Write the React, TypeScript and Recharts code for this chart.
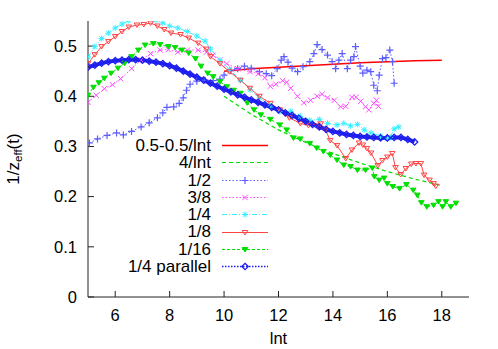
import { Label, Legend, Line, LineChart, XAxis, YAxis } from 'recharts'

const FONT = '"Liberation Sans", Arial, Helvetica, sans-serif'

const xTicks = [6, 8, 10, 12, 14, 16, 18]
const yTicks = [0, 0.1, 0.2, 0.3, 0.4, 0.5]

// [lnt, 1/z_eff] pairs
const limitCurve: [number, number][] = [
  [10, 0.45], [11, 0.455], [12, 0.458], [13, 0.461], [14, 0.464],
  [15, 0.467], [16, 0.469], [17, 0.471], [18, 0.472],
]

const inverseCurve: [number, number][] = [
  [10, 0.4], [11, 0.364], [12, 0.333], [13, 0.308], [14, 0.286],
  [15, 0.267], [16, 0.25], [17, 0.235], [18, 0.222],
]

const half: [number, number][] = [
  [5.05, 0.307], [5.35, 0.315], [5.7, 0.322], [6.05, 0.327], [6.3, 0.323], [6.6, 0.33],
  [6.95, 0.339], [7.25, 0.347], [7.55, 0.357], [7.75, 0.367], [7.9, 0.378], [8.15, 0.379],
  [8.35, 0.386], [8.5, 0.397], [8.62, 0.412], [8.75, 0.424], [9.0, 0.43], [9.3, 0.432],
  [9.6, 0.431], [9.85, 0.434], [10.0, 0.442], [10.25, 0.451], [10.5, 0.455], [10.75, 0.46],
  [11.0, 0.456], [11.3, 0.449], [11.55, 0.445], [11.75, 0.441], [11.95, 0.455], [12.1, 0.472],
  [12.2, 0.479], [12.35, 0.468], [12.5, 0.456], [12.7, 0.449], [12.9, 0.459], [13.15, 0.469],
  [13.3, 0.485], [13.42, 0.503], [13.6, 0.493], [13.8, 0.482], [13.97, 0.469], [14.1, 0.455],
  [14.22, 0.472], [14.34, 0.485], [14.53, 0.455], [14.65, 0.472], [14.77, 0.479], [14.83, 0.499],
  [15.0, 0.46], [15.1, 0.446], [15.25, 0.452], [15.39, 0.449], [15.5, 0.422], [15.63, 0.411],
  [15.7, 0.442], [15.82, 0.475], [15.95, 0.477], [16.09, 0.492], [16.19, 0.469], [16.25, 0.426],
]

const threeEighths: [number, number][] = [
  [5.0, 0.388], [5.3, 0.402], [5.6, 0.415], [5.9, 0.423], [6.2, 0.435], [6.6, 0.455],
  [6.95, 0.472], [7.3, 0.485], [7.65, 0.492], [7.95, 0.493], [8.3, 0.488], [8.65, 0.492],
  [9.05, 0.492], [9.35, 0.488], [9.6, 0.482], [9.85, 0.472], [10.1, 0.465], [10.5, 0.455],
  [10.95, 0.449], [11.25, 0.445], [11.5, 0.437], [11.7, 0.42], [11.9, 0.424], [12.15, 0.431],
  [12.3, 0.428], [12.45, 0.416], [12.7, 0.4], [12.93, 0.387], [13.18, 0.392], [13.42, 0.4],
  [13.6, 0.404], [13.8, 0.397], [14.05, 0.392], [14.28, 0.379], [14.47, 0.38], [14.7, 0.398],
  [14.85, 0.398], [15.02, 0.39], [15.2, 0.379], [15.32, 0.373], [15.5, 0.386], [15.6, 0.392],
  [15.67, 0.38],
]

const quarter: [number, number][] = [
  [5.0, 0.478], [5.25, 0.499], [5.5, 0.515], [5.75, 0.526], [6.0, 0.536], [6.25, 0.544],
  [6.5, 0.551], [6.75, 0.556], [7.0, 0.557], [7.25, 0.556], [7.5, 0.552], [7.75, 0.546],
  [8.0, 0.54], [8.3, 0.536], [8.65, 0.529], [9.0, 0.52], [9.3, 0.51], [9.5, 0.494],
  [9.85, 0.472], [10.2, 0.453], [10.6, 0.432], [10.95, 0.413], [11.3, 0.397], [11.7, 0.381],
  [12.05, 0.369], [12.45, 0.37], [12.8, 0.36], [13.15, 0.352], [13.5, 0.354], [13.8, 0.346],
  [14.15, 0.343], [14.4, 0.346], [14.65, 0.341], [14.9, 0.344], [15.15, 0.333], [15.4, 0.327],
  [15.75, 0.321], [16.0, 0.315], [16.1, 0.318], [16.25, 0.335], [16.42, 0.339],
]

const eighth: [number, number][] = [
  [5.0, 0.465], [5.25, 0.483], [5.5, 0.499], [5.75, 0.509], [6.0, 0.519], [6.25, 0.529],
  [6.5, 0.538], [6.8, 0.542], [7.05, 0.543], [7.3, 0.546], [7.55, 0.54], [7.8, 0.533],
  [8.05, 0.526], [8.4, 0.523], [8.7, 0.516], [9.05, 0.506], [9.35, 0.494], [9.5, 0.479],
  [9.85, 0.465], [10.2, 0.449], [10.6, 0.432], [10.95, 0.416], [11.3, 0.4], [11.7, 0.386],
  [12.05, 0.373], [12.4, 0.357], [12.8, 0.346], [13.1, 0.342], [13.4, 0.341], [13.55, 0.345],
  [13.73, 0.333], [13.9, 0.312], [14.15, 0.302], [14.47, 0.276], [14.7, 0.293], [14.96, 0.307],
  [15.1, 0.303], [15.25, 0.296], [15.4, 0.287], [15.65, 0.262], [15.82, 0.272], [16.0, 0.279],
  [16.18, 0.286], [16.3, 0.258], [16.49, 0.244], [16.68, 0.256], [16.88, 0.265], [17.05, 0.266],
  [17.23, 0.266], [17.35, 0.243], [17.55, 0.233], [17.7, 0.226], [17.78, 0.221],
]

const sixteenth: [number, number][] = [
  [5.0, 0.402], [5.2, 0.418], [5.4, 0.427], [5.6, 0.436], [5.85, 0.446], [6.1, 0.456],
  [6.35, 0.466], [6.6, 0.479], [6.85, 0.492], [7.1, 0.502], [7.4, 0.505], [7.65, 0.503],
  [7.95, 0.499], [8.2, 0.497], [8.45, 0.492], [8.7, 0.486], [8.95, 0.475], [9.15, 0.46],
  [9.4, 0.446], [9.6, 0.439], [9.85, 0.429], [10.1, 0.419], [10.35, 0.412], [10.6, 0.406],
  [10.85, 0.387], [11.1, 0.373], [11.35, 0.363], [11.7, 0.354], [12.05, 0.343], [12.3, 0.333],
  [12.55, 0.317], [12.8, 0.315], [13.15, 0.306], [13.4, 0.297], [13.65, 0.29], [13.9, 0.283],
  [14.15, 0.273], [14.4, 0.263], [14.65, 0.26], [14.9, 0.253], [15.2, 0.253], [15.45, 0.257],
  [15.52, 0.24], [15.7, 0.233], [15.88, 0.237], [16.0, 0.226], [16.2, 0.22], [16.45, 0.216],
  [16.7, 0.224], [16.95, 0.213], [17.1, 0.203], [17.25, 0.188], [17.45, 0.18], [17.7, 0.183],
  [17.88, 0.19], [18.03, 0.18], [18.15, 0.19], [18.33, 0.18], [18.52, 0.187],
]

const quarterParallel: [number, number][] = [
  [5.0, 0.458], [5.25, 0.462], [5.5, 0.466], [5.75, 0.469], [6.0, 0.471], [6.25, 0.472],
  [6.5, 0.473], [6.75, 0.473], [7.0, 0.472], [7.25, 0.47], [7.5, 0.468], [7.75, 0.465],
  [8.0, 0.461], [8.25, 0.456], [8.5, 0.45], [8.75, 0.444], [9.0, 0.438], [9.25, 0.432],
  [9.5, 0.426], [9.75, 0.42], [10.0, 0.414], [10.25, 0.409], [10.5, 0.403], [10.75, 0.398],
  [11.0, 0.393], [11.25, 0.388], [11.5, 0.383], [11.75, 0.378], [12.0, 0.373], [12.25, 0.367],
  [12.5, 0.362], [12.75, 0.356], [13.0, 0.35], [13.25, 0.344], [13.5, 0.339], [13.75, 0.334],
  [14.0, 0.33], [14.25, 0.327], [14.5, 0.324], [14.75, 0.322], [15.0, 0.32], [15.25, 0.319],
  [15.5, 0.318], [15.75, 0.317], [16.0, 0.317], [16.25, 0.318], [16.5, 0.318], [16.75, 0.314],
  [17.0, 0.309],
]

type MarkerKind = 'none' | 'plus' | 'cross' | 'star' | 'triangle' | 'triangleFilled' | 'diamond'

type Series = {
  name: string
  points: [number, number][]
  color: string
  dash?: string
  keyDash?: string
  width: number
  marker: MarkerKind
}

const series: Series[] = [
  { name: '0.5-0.5/lnt', points: limitCurve, color: '#ff0000', width: 1.5, marker: 'none' },
  { name: '4/lnt', points: inverseCurve, color: '#00dd00', dash: '4 3', width: 1.2, marker: 'none' },
  { name: '1/2', points: half, color: '#5c5cff', dash: '1.5 2', width: 1, marker: 'plus' },
  { name: '3/8', points: threeEighths, color: '#ff4cff', dash: '1.5 2', width: 1, marker: 'cross' },
  { name: '1/4', points: quarter, color: '#33eeff', dash: '5 2 1 2', width: 1, marker: 'star' },
  { name: '1/8', points: eighth, color: '#ff4444', width: 1, marker: 'triangle' },
  { name: '1/16', points: sixteenth, color: '#00e000', dash: '3 2', width: 1, marker: 'triangleFilled' },
  { name: '1/4 parallel', points: quarterParallel, color: '#1f1fee', keyDash: '1.5 1.5', width: 4, marker: 'diamond' },
]

function Marker({ kind, cx, cy, color }: { kind: MarkerKind; cx: number; cy: number; color: string }) {
  if (cx == null || cy == null || kind === 'none') return null
  if (kind === 'plus') {
    return <path d={`M${cx - 3.5},${cy}h7M${cx},${cy - 3.5}v7`} stroke={color} strokeWidth={1.2} fill="none" />
  }
  if (kind === 'cross') {
    return <path d={`M${cx - 2.7},${cy - 2.7}l5.4,5.4M${cx - 2.7},${cy + 2.7}l5.4,-5.4`} stroke={color} strokeWidth={1} fill="none" />
  }
  if (kind === 'star') {
    return (
      <path
        d={`M${cx - 3},${cy}h6M${cx},${cy - 3}v6M${cx - 2.2},${cy - 2.2}l4.4,4.4M${cx - 2.2},${cy + 2.2}l4.4,-4.4`}
        stroke={color}
        strokeWidth={1}
        fill="none"
      />
    )
  }
  if (kind === 'triangle' || kind === 'triangleFilled') {
    return (
      <path
        d={`M${cx - 2.8},${cy - 2}h5.6l-2.8,4.5z`}
        stroke={color}
        strokeWidth={1}
        fill={kind === 'triangleFilled' ? color : 'none'}
      />
    )
  }
  return <path d={`M${cx},${cy - 3.2}l3.2,3.2l-3.2,3.2l-3.2,-3.2z`} stroke={color} strokeWidth={1.3} fill="none" />
}

function makeDot(kind: MarkerKind, color: string) {
  return (props: any) => (
    <Marker key={`dot-${props.index}`} kind={kind} cx={props.cx} cy={props.cy} color={color} />
  )
}

function YTitle(props: any) {
  const vb = props.viewBox
  const cx = vb.x - 29
  const cy = vb.y + vb.height / 2
  return (
    <text transform={`translate(${cx},${cy}) rotate(-90)`} textAnchor="middle" fontSize={17} fill="#000" fontFamily={FONT}>
      1/z
      <tspan fontSize={11.5} dy={3}>eff</tspan>
      <tspan dy={-3}>(t)</tspan>
    </text>
  )
}

function KeyBox() {
  return (
    <div style={{ fontFamily: FONT, fontSize: 17, color: '#000' }}>
      {series.map((s) => (
        <div key={s.name} style={{ display: 'flex', alignItems: 'center', height: 17.3 }}>
          <span style={{ width: 113, textAlign: 'right', lineHeight: '17.3px', whiteSpace: 'nowrap' }}>{s.name}</span>
          <svg width={60} height={17} style={{ marginLeft: 10 }}>
            <line
              x1={1}
              x2={47}
              y1={8.5}
              y2={8.5}
              stroke={s.color}
              strokeWidth={Math.min(s.width, 1.5)}
              strokeDasharray={s.keyDash ?? s.dash}
            />
            <Marker kind={s.marker} cx={24} cy={8.5} color={s.color} />
          </svg>
        </div>
      ))}
    </div>
  )
}

const noTick = () => <g />

export default function App() {
  return (
    <div style={{ position: 'absolute', left: 0, top: 0, background: '#fff' }}>
      <LineChart
        width={498}
        height={349}
        margin={{ top: 21, right: 29, bottom: 22, left: 48 }}
        style={{ fontFamily: FONT }}
      >
        <XAxis
          type="number"
          dataKey="x"
          domain={[5, 19]}
          ticks={xTicks}
          interval={0}
          allowDataOverflow
          height={30}
          tickSize={-6}
          tickMargin={18}
          stroke="#222"
          tick={{ fill: '#000', fontSize: 16.5 }}
        >
          <Label value="lnt" position="bottom" offset={5} fill="#000" fontSize={16.5} />
        </XAxis>
        <XAxis
          xAxisId="top"
          orientation="top"
          type="number"
          domain={[5, 19]}
          ticks={xTicks}
          interval={0}
          allowDataOverflow
          height={0}
          tickSize={-6}
          stroke="#222"
          tick={noTick}
        />
        <YAxis
          type="number"
          domain={[0, 0.55]}
          ticks={yTicks}
          interval={0}
          allowDataOverflow
          width={40}
          tickSize={-6}
          tickMargin={17}
          stroke="#222"
          tick={{ fill: '#000', fontSize: 16.5 }}
        >
          <Label content={YTitle} />
        </YAxis>
        <YAxis
          yAxisId="right"
          orientation="right"
          type="number"
          domain={[0, 0.55]}
          ticks={yTicks}
          interval={0}
          allowDataOverflow
          width={0}
          tickSize={-6}
          stroke="#222"
          tick={noTick}
        />
        <Legend
          layout="vertical"
          align="center"
          verticalAlign="middle"
          content={KeyBox}
          wrapperStyle={{ left: 100, top: 137, width: 180 }}
        />
        {series.map((s) => (
          <Line
            key={s.name}
            name={s.name}
            data={s.points.map(([x, y]) => ({ x, y }))}
            dataKey="y"
            type="linear"
            stroke={s.color}
            strokeWidth={s.width}
            strokeDasharray={s.dash}
            dot={s.marker === 'none' ? false : makeDot(s.marker, s.color)}
            activeDot={false}
            isAnimationActive={false}
          />
        ))}
      </LineChart>
    </div>
  )
}
